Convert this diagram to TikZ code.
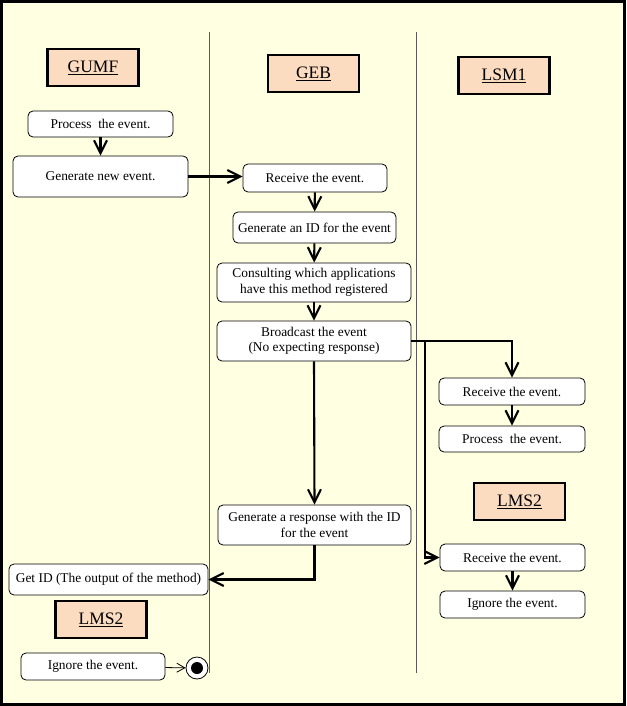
\documentclass[tikz,border=0pt]{standalone}
\usepackage{fontspec}
\setmainfont{Liberation Serif}
\usetikzlibrary{arrows.meta}
\definecolor{lanebg}{RGB}{255,255,225}
\definecolor{headfill}{RGB}{252,220,192}
\definecolor{laneline}{RGB}{90,90,90}
\begin{document}
\begin{tikzpicture}[x=1pt,y=-1pt,
		lane/.style={draw=black,line width=2.2pt,fill=headfill,minimum width=91pt,minimum height=37pt,inner sep=0pt,font=\fontsize{17.5}{19}\selectfont},
		act/.style={draw=black,line width=0.8pt,fill=white,rounded corners=5pt,inner sep=0pt,align=center,font=\fontsize{13.4}{15.5}\selectfont},
		flow/.style={line width=2.1pt,-{Straight Barb[length=13pt,width=13pt]}},
		endflow/.style={line width=0.8pt,-{Straight Barb[length=8pt,width=9pt]}}]
		\fill[lanebg] (0,0) rectangle (626,706);
		\useasboundingbox (0,0) rectangle (626,706);
		\foreach \x in {209,416}
		{
			\draw[laneline,line width=0.9pt] (\x,32) -- (\x,673);
		}
		\draw[line width=3pt] (1.5,1.5) rectangle (624.5,704.5);
		\begin{scope}
		\node[lane] (gumf) at (93,67.5) {\underline{GUMF}};
		\node[act,minimum width=145pt,minimum height=26pt] (procG) at (100.5,124) {Process~ the event.};
		\node[act,minimum width=175pt,minimum height=41pt] (genNew) at (100.5,176.5) {Generate new event.};
		\node[act,minimum width=199pt,minimum height=31pt] (getID) at (108.5,579.5) {Get ID (The output of the method)};
		\node[lane] (lmsL) at (101,619.5) {\underline{LMS2}};
		\node[act,minimum width=144pt,minimum height=27pt] (ignL) at (93,666.5) {Ignore the event.};
		\node[circle,draw=black,line width=0.8pt,fill=white,minimum size=22pt,inner sep=0pt] (final) at (197,668) {};
		\fill (final.center) circle (6pt);
		\end{scope}
		\begin{scope}
		\node[lane] (geb) at (313.5,73.5) {\underline{GEB}};
		\node[act,minimum width=144pt,minimum height=28pt] (recvB) at (315,178) {Receive the event.};
		\node[act,minimum width=163pt,minimum height=31pt] (genID) at (314.5,227.5) {Generate an ID for the event};
		\node[act,minimum width=194pt,minimum height=39pt] (consult) at (314,282.5) {Consulting which applications\\have this method registered};
		\node[act,minimum width=194pt,minimum height=40pt] (bcast) at (314,341) {Broadcast the event\\(No expecting response)};
		\node[act,minimum width=193pt,minimum height=40pt] (genResp) at (314.5,525) {Generate a response with the ID\\for the event};
		\end{scope}
		\begin{scope}
		\node[lane] (lsm) at (504,75.5) {\underline{LSM1}};
		\node[act,minimum width=146pt,minimum height=27pt] (recvL) at (512,391.5) {Receive the event.};
		\node[act,minimum width=146pt,minimum height=26pt] (procL) at (512,439) {Process~ the event.};
		\node[lane] (lmsR) at (519.5,501.5) {\underline{LMS2}};
		\node[act,minimum width=145pt,minimum height=27pt] (recvM) at (512.5,557.5) {Receive the event.};
		\node[act,minimum width=145pt,minimum height=27pt] (ignR) at (512.5,604.5) {Ignore the event.};
		\end{scope}
		\coordinate (split) at (425,341);
		\draw[flow] (procG) -- (genNew);
		\draw[flow] (genNew.east) -- (recvB.west |- genNew.east);
		\draw[flow] (recvB) -- (genID);
		\draw[flow] (genID) -- (consult);
		\draw[flow] (consult) -- (bcast);
		\draw[flow] (bcast.east) -| (recvL.north);
		\draw[flow] (split) |- (recvM.west);
		\draw[flow] (recvL) -- (procL);
		\draw[flow] (recvM) -- (ignR);
		\draw[flow] (bcast.south) -- (genResp.north);
		\draw[flow] (genResp.south) |- (getID.east);
		\draw[endflow] (ignL) -- (final);
\end{tikzpicture}
\end{document}
